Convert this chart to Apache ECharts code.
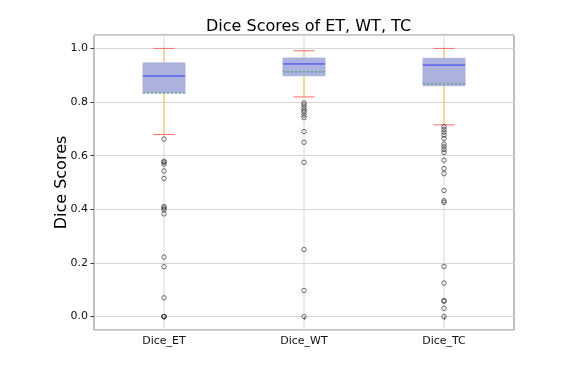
<!DOCTYPE html>
<html>
<head>
<meta charset="utf-8">
<script src="https://cdn.jsdelivr.net/npm/echarts@6/dist/echarts.min.js"></script>
<style>
  html, body { margin: 0; padding: 0; background: #fff; }
  #main { width: 571px; height: 368px; }
</style>
</head>
<body>
<div id="main"></div>
<script>
// box statistics
const categories = ['Dice_ET', 'Dice_WT', 'Dice_TC']
const lowerWhisker = [0.679, 0.819, 0.715]
const q1 = [0.834, 0.898, 0.861]
const median = [0.897, 0.942, 0.938]
const q3 = [0.946, 0.964, 0.963]
const upperWhisker = [1.0, 0.991, 1.0]
const means = [0.834, 0.913, 0.868]

// fliers for each box
const outliersET = [0.662, 0.579, 0.575, 0.568, 0.543, 0.515, 0.41, 0.405, 0.399, 0.383,
  0.222, 0.186, 0.07, 0.0, 0.0, 0.0]
const outliersWT = [0.797, 0.789, 0.779, 0.77, 0.762, 0.751, 0.742, 0.69, 0.65, 0.575,
  0.25, 0.097, 0.0]
const outliersTC = [0.708, 0.698, 0.688, 0.677, 0.664, 0.643, 0.633, 0.623, 0.612, 0.583,
  0.552, 0.533, 0.47, 0.432, 0.426, 0.187, 0.125, 0.06, 0.057, 0.031, 0.0]

const yTicks = [0, 0.2, 0.4, 0.6, 0.8, 1.0]

const boxData = categories.map((c, i) => [i, lowerWhisker[i], q1[i], median[i], q3[i], upperWhisker[i], means[i]])
const flierData = []
;[outliersET, outliersWT, outliersTC].forEach((arr, i) => {
  arr.forEach((v) => flierData.push([i, v]))
})

var myChart = echarts.init(document.getElementById('main'))

function renderBox(params, api) {
  const idx = api.value(0)
  const c = (v) => api.coord([idx, v])
  const band = api.size([1, 0])[0]
  const boxW = band * 0.3
  const capW = boxW * 0.5
  const cs = params.coordSys
  const x = c(0)[0]
  const yLw = c(api.value(1))[1]
  const yQ1 = c(api.value(2))[1]
  const yMed = c(api.value(3))[1]
  const yQ3 = c(api.value(4))[1]
  const yUw = c(api.value(5))[1]
  const yMean = c(api.value(6))[1]
  const line = (x1, y1, x2, y2, style) => ({
    type: 'line',
    shape: { x1: x1, y1: y1, x2: x2, y2: y2 },
    style: style,
  })
  return {
    type: 'group',
    children: [
      // vertical grid line through the category
      line(x, cs.y, x, cs.y + cs.height, { stroke: '#d6d6d6', lineWidth: 1 }),
      line(x, yQ1, x, yLw, { stroke: '#ffc04a', lineWidth: 1 }),
      line(x, yQ3, x, yUw, { stroke: '#ffc04a', lineWidth: 1 }),
      line(x - capW / 2, yLw, x + capW / 2, yLw, { stroke: '#ff6b6b', lineWidth: 1 }),
      line(x - capW / 2, yUw, x + capW / 2, yUw, { stroke: '#ff6b6b', lineWidth: 1 }),
      {
        type: 'rect',
        shape: { x: x - boxW / 2, y: yQ3, width: boxW, height: yQ1 - yQ3 },
        style: { fill: '#aab2dd', stroke: '#aab2dd', lineWidth: 1 },
      },
      line(x - boxW / 2, yMean, x + boxW / 2, yMean, { stroke: '#4f9d5d', lineWidth: 1, lineDash: [2, 2] }),
      line(x - boxW / 2, yMed, x + boxW / 2, yMed, { stroke: '#3a3aff', lineWidth: 1 }),
    ],
  }
}

let option = {
  animation: false,
  textStyle: { fontFamily: 'DejaVu Sans' },
  title: {
    text: 'Dice Scores of ET, WT, TC',
    left: 201,
    top: 14,
    textStyle: { fontFamily: 'DejaVu Sans', fontSize: 16, fontWeight: 'normal', color: '#000' },
  },
  grid: {
    left: 94,
    right: 57,
    top: 35,
    bottom: 38,
    show: true,
    borderColor: '#808080',
    borderWidth: 1,
    containLabel: false,
  },
  xAxis: {
    type: 'category',
    data: categories,
    boundaryGap: true,
    axisLine: { show: false },
    axisTick: { show: true, alignWithLabel: true, length: 3.5, lineStyle: { color: '#333' } },
    axisLabel: { fontSize: 11, color: '#111', margin: 6 },
    splitLine: { show: false },
  },
  yAxis: {
    type: 'value',
    min: -0.05,
    max: 1.05,
    name: 'Dice Scores',
    nameLocation: 'middle',
    nameGap: 24,
    nameMoveOverlap: false,
    nameRotate: 90,
    nameTextStyle: { fontFamily: 'DejaVu Sans', fontSize: 16, color: '#000' },
    axisLine: { show: false },
    axisTick: { show: true, length: 3.5, lineStyle: { color: '#333' } },
    axisLabel: {
      fontSize: 11,
      color: '#111',
      margin: 6,
      showMinLabel: false,
      showMaxLabel: false,
      formatter: (v) => (yTicks.some((t) => Math.abs(t - v) < 1e-6) ? v.toFixed(1) : ''),
    },
    splitLine: { show: true, lineStyle: { color: '#d6d6d6', width: 1 } },
  },
  series: [
    {
      name: 'box',
      type: 'custom',
      renderItem: renderBox,
      encode: { x: 0, y: [1, 2, 3, 4, 5, 6] },
      data: boxData,
      z: 2,
    },
    {
      name: 'outliers',
      type: 'scatter',
      symbol: 'circle',
      symbolSize: 4.5,
      itemStyle: { color: 'rgba(0,0,0,0)', borderColor: '#222', borderWidth: 0.8 },
      data: flierData,
      z: 3,
    },
  ],
}
myChart.setOption(option)
</script>
</body>
</html>
